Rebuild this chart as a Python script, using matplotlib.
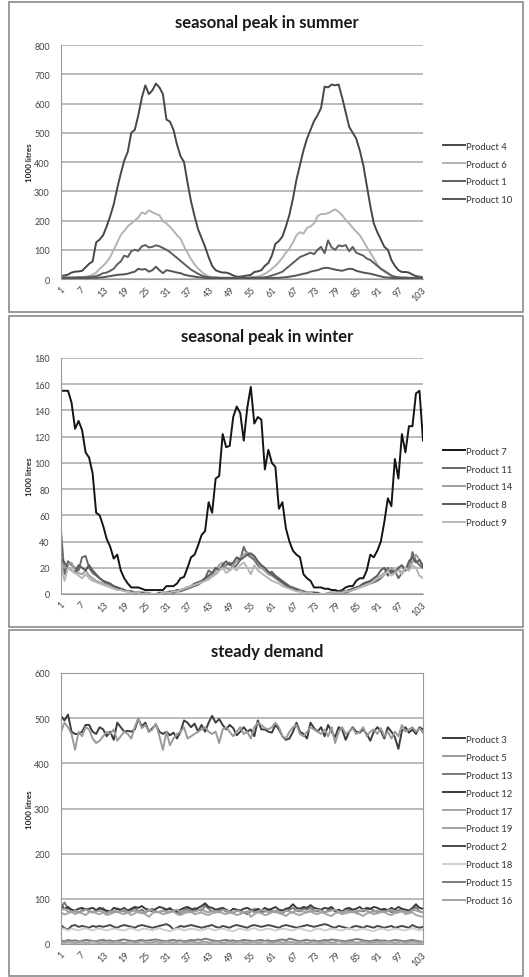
import matplotlib
matplotlib.use('Agg')
import matplotlib.pyplot as plt
from matplotlib.patches import Rectangle

plt.rcParams['font.family'] = ['Lato', 'DejaVu Sans']

W, H = 529, 978

# week labels shown on the category axis
week_ticks = list(range(1, 104, 6))

# ---- seasonal peak in summer ----
summer_names = ['Product 4', 'Product 6', 'Product 1', 'Product 10']
product4 = [10, 12, 15, 22, 25, 26, 28, 40, 52, 60, 125, 135, 150,
            180, 215, 255, 310, 360, 405, 435, 500, 510, 560, 620, 662, 632,
            645, 668, 655, 632, 545, 538, 510, 460, 420, 400, 330, 265, 215,
            170, 140, 110, 75, 45, 30, 25, 22, 22, 18, 12, 8, 8,
            10, 12, 14, 24, 26, 30, 45, 55, 80, 120, 130, 145, 180,
            220, 275, 340, 390, 440, 480, 510, 540, 560, 585, 658, 655, 665,
            662, 665, 620, 570, 520, 500, 480, 440, 390, 320, 250, 190, 160,
            135, 110, 100, 65, 45, 30, 24, 24, 22, 15, 10, 8, 5]
product6 = [5, 5, 4, 5, 5, 6, 6, 8, 10, 15, 22, 35, 45,
            58, 75, 100, 125, 150, 165, 180, 190, 200, 210, 228, 222, 235,
            228, 222, 218, 198, 190, 178, 165, 150, 138, 112, 90, 68, 50,
            36, 25, 15, 9, 6, 5, 5, 4, 4, 4, 4, 4, 4,
            4, 5, 5, 6, 8, 12, 18, 25, 35, 45, 58, 72, 90,
            105, 125, 150, 160, 155, 175, 180, 190, 215, 222, 222, 225, 232,
            238, 230, 218, 202, 190, 175, 162, 150, 130, 110, 90, 70, 50,
            35, 25, 18, 10, 6, 5, 4, 4, 4, 4, 4, 4, 4]
product1 = [5, 5, 5, 5, 5, 6, 6, 6, 7, 8, 10, 14, 20,
            22, 28, 35, 50, 60, 80, 75, 95, 100, 96, 112, 116, 108,
            110, 115, 112, 106, 100, 92, 82, 72, 62, 52, 42, 32, 25,
            18, 12, 8, 6, 5, 5, 4, 4, 4, 4, 4, 4, 4,
            4, 4, 5, 5, 5, 5, 6, 8, 12, 16, 20, 25, 35,
            45, 55, 65, 75, 80, 85, 90, 85, 100, 110, 88, 132, 108,
            100, 115, 112, 116, 95, 110, 90, 85, 80, 70, 65, 55, 45,
            35, 28, 20, 12, 8, 6, 5, 5, 4, 4, 4, 4, 4]
product10 = [3, 3, 3, 3, 3, 3, 3, 3, 3, 4, 4, 5, 6,
             8, 10, 12, 14, 15, 16, 18, 22, 25, 35, 32, 34, 25,
             30, 42, 30, 20, 30, 28, 25, 22, 20, 15, 12, 10, 8,
             6, 5, 4, 3, 3, 3, 3, 3, 3, 3, 3, 3, 3,
             3, 3, 3, 3, 3, 3, 3, 3, 3, 4, 4, 5, 6,
             8, 10, 12, 15, 18, 20, 25, 28, 30, 35, 38, 38, 35,
             32, 30, 28, 32, 35, 34, 28, 25, 22, 20, 18, 15, 12,
             9, 6, 5, 4, 3, 3, 3, 3, 3, 3, 3, 3, 3]

# ---- seasonal peak in winter ----
winter_names = ['Product 7', 'Product 11', 'Product 14', 'Product 8', 'Product 9']
product7 = [155, 155, 155, 146, 126, 132, 125, 108, 104, 92, 62, 60, 52,
            42, 36, 27, 30, 18, 12, 8, 5, 5, 5, 4, 3, 3,
            3, 3, 3, 3, 6, 6, 6, 8, 12, 13, 20, 28, 30,
            37, 45, 48, 70, 62, 88, 90, 122, 112, 113, 135, 143, 138,
            117, 142, 158, 130, 135, 133, 95, 110, 100, 97, 65, 70, 50,
            40, 33, 30, 28, 15, 12, 10, 5, 5, 5, 4, 4, 3,
            3, 2, 3, 5, 6, 6, 10, 12, 12, 18, 30, 28, 33,
            40, 55, 73, 67, 103, 88, 122, 108, 128, 128, 153, 155, 117]
product11 = [48, 15, 25, 22, 20, 18, 28, 29, 20, 16, 14, 12, 10,
             8, 7, 6, 5, 4, 3, 2, 2, 1, 1, 1, 1, 0,
             0, 0, 0, 0, 1, 1, 1, 2, 2, 3, 4, 5, 6,
             7, 9, 12, 18, 16, 15, 18, 20, 22, 24, 20, 22, 26,
             36, 30, 28, 26, 22, 20, 18, 16, 17, 14, 12, 10, 8,
             6, 5, 4, 3, 2, 1, 1, 1, 0, 0, 0, 0, 0,
             1, 1, 1, 1, 2, 3, 4, 5, 6, 7, 8, 9, 10,
             12, 15, 20, 16, 18, 12, 16, 20, 18, 32, 25, 22, 20]
product14 = [25, 20, 22, 24, 18, 16, 15, 18, 14, 12, 10, 9, 8,
             7, 6, 5, 4, 3, 3, 2, 2, 1, 1, 1, 1, 1,
             0, 0, 0, 1, 1, 1, 2, 2, 3, 4, 5, 6, 7,
             8, 9, 10, 12, 14, 18, 22, 24, 20, 18, 22, 25, 28,
             30, 32, 30, 28, 24, 20, 18, 15, 14, 12, 10, 8, 6,
             5, 4, 3, 2, 2, 1, 1, 1, 0, 0, 0, 1, 1,
             1, 1, 2, 2, 3, 4, 5, 6, 7, 8, 9, 10, 12,
             14, 16, 18, 20, 17, 19, 16, 18, 22, 24, 30, 26, 22]
product8 = [27, 24, 20, 18, 16, 22, 20, 18, 22, 18, 15, 12, 10,
            9, 8, 6, 5, 4, 3, 2, 2, 1, 1, 1, 0, 0,
            0, 0, 1, 1, 1, 2, 2, 3, 3, 4, 5, 6, 8,
            9, 10, 12, 14, 16, 20, 18, 22, 25, 22, 24, 28, 26,
            28, 30, 31, 29, 25, 22, 20, 17, 15, 13, 11, 9, 7,
            5, 4, 3, 2, 2, 1, 1, 1, 1, 0, 0, 0, 1,
            1, 1, 2, 2, 3, 4, 5, 6, 8, 9, 10, 12, 14,
            18, 20, 14, 18, 16, 20, 22, 18, 25, 28, 24, 26, 21]
product9 = [22, 10, 20, 18, 16, 14, 12, 15, 12, 10, 9, 8, 7,
            6, 5, 4, 3, 3, 2, 2, 1, 1, 1, 0, 0, 0,
            0, 0, 0, 1, 1, 1, 2, 2, 3, 4, 5, 6, 7,
            8, 9, 10, 11, 13, 15, 18, 20, 16, 18, 20, 18, 22,
            24, 20, 15, 22, 18, 16, 14, 12, 10, 9, 8, 6, 5,
            4, 3, 2, 2, 1, 1, 1, 0, 0, 0, 0, 0, 1,
            1, 1, 1, 2, 2, 3, 4, 5, 6, 7, 8, 10, 12,
            13, 15, 17, 14, 16, 18, 15, 20, 18, 22, 20, 14, 12]

# ---- steady demand ----
steady_names = ['Product 3', 'Product 5', 'Product 13', 'Product 12', 'Product 17',
                'Product 19', 'Product 2', 'Product 18', 'Product 15', 'Product 16']
product3 = [505, 495, 508, 470, 465, 465, 470, 485, 485, 470, 465, 480, 475,
            460, 470, 452, 490, 480, 470, 472, 470, 475, 498, 482, 490, 470,
            478, 485, 470, 465, 470, 462, 468, 455, 470, 495, 490, 480, 488,
            470, 485, 470, 490, 505, 490, 498, 485, 475, 485, 478, 462, 470,
            480, 470, 475, 460, 495, 475, 475, 470, 468, 485, 475, 460, 452,
            455, 470, 490, 470, 465, 455, 490, 478, 470, 480, 460, 485, 470,
            458, 480, 475, 452, 470, 480, 470, 468, 475, 465, 450, 470, 480,
            472, 455, 480, 470, 458, 432, 472, 480, 468, 475, 465, 480, 475]
product5 = [470, 490, 480, 465, 430, 470, 460, 480, 475, 455, 445, 450, 460,
            470, 465, 475, 450, 460, 470, 465, 455, 480, 500, 478, 485, 470,
            475, 488, 460, 430, 470, 440, 455, 465, 470, 480, 455, 460, 465,
            470, 475, 480, 470, 465, 470, 445, 475, 480, 470, 460, 470, 480,
            465, 470, 455, 480, 490, 485, 478, 475, 480, 490, 480, 460, 455,
            470, 480, 485, 465, 460, 470, 480, 475, 470, 465, 475, 460, 480,
            445, 470, 480, 465, 470, 478, 465, 470, 480, 460, 470, 475, 465,
            478, 460, 470, 455, 470, 460, 485, 470, 475, 480, 470, 478, 468]
product13 = [80, 92, 78, 75, 72, 70, 75, 78, 72, 70, 74, 76, 80,
             68, 72, 70, 78, 74, 72, 70, 75, 80, 72, 76, 70, 74,
             78, 72, 70, 74, 76, 80, 72, 70, 68, 75, 78, 72, 80,
             76, 74, 85, 78, 72, 70, 74, 76, 72, 70, 68, 74, 72,
             70, 66, 72, 78, 74, 70, 72, 76, 74, 70, 72, 68, 74,
             76, 80, 74, 72, 78, 76, 80, 74, 72, 76, 70, 74, 78,
             72, 70, 68, 74, 76, 72, 70, 74, 72, 76, 78, 74, 70,
             72, 74, 76, 70, 72, 74, 78, 72, 70, 74, 82, 72, 70]
product12 = [85, 78, 82, 76, 74, 78, 80, 76, 78, 80, 75, 80, 76,
             74, 72, 80, 78, 76, 80, 74, 78, 82, 80, 84, 78, 76,
             72, 78, 82, 80, 76, 78, 74, 72, 76, 80, 82, 78, 76,
             80, 84, 90, 82, 80, 76, 78, 80, 76, 72, 78, 76, 74,
             78, 80, 76, 72, 78, 74, 80, 76, 78, 82, 76, 74, 78,
             80, 88, 80, 78, 82, 80, 86, 80, 78, 76, 80, 78, 82,
             74, 76, 72, 78, 80, 76, 78, 82, 76, 80, 78, 82, 80,
             76, 78, 74, 80, 76, 82, 78, 76, 74, 80, 88, 80, 78]
product17 = [70, 65, 68, 72, 66, 70, 68, 64, 70, 72, 68, 66, 70,
             64, 66, 70, 72, 68, 66, 70, 64, 68, 72, 70, 66, 60,
             68, 72, 70, 66, 68, 70, 72, 66, 64, 68, 70, 72, 66,
             68, 70, 66, 64, 68, 70, 72, 68, 66, 70, 68, 64, 66,
             70, 72, 60, 66, 70, 68, 64, 66, 70, 72, 68, 66, 62,
             68, 70, 66, 64, 68, 70, 72, 68, 66, 70, 68, 64, 62,
             68, 70, 66, 68, 70, 72, 68, 66, 62, 68, 70, 66, 68,
             70, 72, 66, 64, 68, 70, 72, 66, 68, 70, 64, 62, 60]
product19 = [75, 78, 72, 70, 74, 70, 72, 76, 74, 70, 72, 74, 70,
             68, 72, 74, 70, 72, 76, 70, 72, 74, 70, 68, 72, 76,
             74, 70, 72, 74, 70, 72, 74, 76, 70, 72, 74, 70, 72,
             74, 78, 72, 70, 74, 72, 70, 76, 74, 72, 70, 74, 72,
             70, 72, 74, 70, 72, 76, 74, 70, 72, 74, 72, 70, 74,
             72, 70, 76, 74, 72, 70, 74, 72, 76, 74, 70, 72, 74,
             76, 72, 70, 74, 72, 70, 74, 72, 76, 74, 70, 72, 74,
             72, 70, 74, 76, 72, 70, 74, 72, 70, 76, 74, 72, 70]
product2 = [42, 35, 32, 40, 42, 38, 40, 38, 36, 40, 38, 40, 38,
            40, 42, 38, 36, 40, 42, 40, 38, 36, 40, 42, 40, 38,
            36, 38, 40, 42, 44, 40, 32, 36, 40, 38, 40, 42, 40,
            38, 36, 38, 40, 42, 38, 36, 40, 38, 36, 40, 42, 40,
            38, 36, 40, 42, 40, 38, 40, 42, 40, 38, 36, 40, 42,
            40, 38, 36, 38, 40, 42, 40, 38, 40, 42, 44, 42, 38,
            36, 40, 38, 36, 34, 38, 40, 38, 36, 40, 38, 36, 40,
            38, 36, 38, 40, 36, 38, 40, 38, 36, 42, 38, 36, 38]
product18 = [35, 33, 30, 34, 32, 30, 33, 35, 32, 30, 33, 34, 32,
             30, 32, 34, 33, 31, 30, 33, 35, 32, 30, 33, 34, 32,
             30, 33, 35, 32, 30, 28, 32, 34, 33, 30, 32, 34, 33,
             31, 30, 33, 35, 32, 30, 33, 34, 32, 30, 28, 32, 34,
             32, 30, 33, 35, 32, 30, 33, 34, 32, 30, 32, 34, 33,
             31, 30, 33, 35, 32, 30, 28, 32, 34, 33, 30, 32, 34,
             33, 31, 30, 33, 35, 32, 30, 33, 34, 32, 30, 28, 32,
             34, 33, 30, 32, 34, 33, 31, 30, 33, 35, 32, 30, 33]
product15 = [8, 6, 9, 7, 8, 6, 7, 9, 8, 7, 6, 8, 9,
             7, 8, 6, 7, 9, 10, 8, 7, 6, 8, 9, 7, 8,
             9, 10, 8, 7, 6, 8, 9, 7, 8, 6, 7, 9, 8,
             10, 9, 12, 10, 8, 7, 6, 8, 9, 7, 8, 6, 7,
             9, 8, 7, 6, 8, 9, 7, 8, 6, 7, 9, 10, 8,
             12, 10, 8, 6, 8, 9, 7, 8, 6, 7, 9, 8, 10,
             9, 8, 7, 6, 8, 9, 11, 10, 8, 7, 6, 8, 9,
             7, 8, 6, 7, 9, 8, 7, 6, 8, 9, 7, 6, 5]
product16 = [4, 3, 5, 4, 3, 4, 5, 3, 4, 6, 4, 3, 4,
             5, 3, 4, 5, 4, 2, 4, 5, 3, 4, 6, 4, 3,
             4, 5, 3, 4, 5, 4, 3, 4, 6, 3, 4, 5, 4,
             3, 4, 5, 3, 4, 5, 4, 2, 4, 5, 3, 4, 5,
             4, 3, 4, 5, 3, 4, 6, 4, 3, 4, 5, 3, 4,
             5, 4, 3, 4, 5, 2, 4, 5, 4, 3, 4, 5, 3,
             4, 6, 4, 3, 4, 5, 3, 4, 5, 4, 3, 4, 5,
             3, 4, 5, 4, 3, 4, 5, 2, 4, 5, 4, 3, 4]


def px_rect(x0, y0, x1, y1):
    return [x0 / W, 1 - y1 / H, (x1 - x0) / W, (y1 - y0) / H]


fig = plt.figure(figsize=(W / 100, H / 100), dpi=100)
fig.patch.set_facecolor('white')


def panel(box, plot, title, title_y, series, names, colors, ymax, ystep, leg_y, boxed=False):
    # outer chart frame
    bx0, by0, bx1, by1 = box
    fig.patches.append(Rectangle((bx0 / W, 1 - by1 / H), (bx1 - bx0) / W, (by1 - by0) / H,
                                 transform=fig.transFigure, fill=False,
                                 ec='#8a8a8a', lw=1.2))
    ax = fig.add_axes(px_rect(*plot))
    for ys, name, col in zip(series, names, colors):
        ax.plot(range(1, len(ys) + 1), ys, color=col, lw=1.4, label=name)
    ax.set_xlim(1, 104)
    ax.set_ylim(0, ymax)
    ax.set_yticks(range(0, ymax + 1, ystep))
    ax.set_xticks(week_ticks)
    ax.set_xticklabels([str(t) for t in week_ticks], rotation=45, ha='center', va='top')
    ax.tick_params(length=0, labelsize=6.5, colors='#444444')
    ax.tick_params(axis='x', pad=4)
    ax.tick_params(axis='y', pad=8)
    ax.yaxis.grid(True, color='#a8a8a8', lw=1.1)
    ax.set_axisbelow(True)
    for s in ['top', 'right']:
        ax.spines[s].set_visible(boxed)
        ax.spines[s].set_color('#9a9a9a')
    ax.spines['left'].set_color('#9a9a9a')
    ax.spines['bottom'].set_color('#9a9a9a')
    fig.text(267 / W, 1 - title_y / H, title, ha='center', va='center',
             fontsize=12, fontweight='bold', color='#1a1a1a')
    yc = (plot[1] + plot[3]) / 2
    fig.text(29 / W, 1 - yc / H, '1000 litres', rotation=90, ha='center', va='center',
             fontsize=5.8, fontweight='bold', color='#222222')
    ax.legend(loc='center left', bbox_to_anchor=(443 / W, 1 - leg_y / H),
              bbox_transform=fig.transFigure, frameon=False, fontsize=6.8,
              handlelength=2.3, handletextpad=0.15, labelspacing=0.95,
              borderpad=0, borderaxespad=0, labelcolor='#333333')
    return ax


panel((9, 3, 523, 313), (61, 46, 423, 280), 'seasonal peak in summer', 23,
      [product4, product6, product1, product10], summer_names,
      ['#474747', '#b3b3b3', '#5e5e5e', '#555555'], 800, 100, 174)

panel((9, 317, 523, 628), (61, 359, 423, 595), 'seasonal peak in winter', 337,
      [product7, product11, product14, product8, product9], winter_names,
      ['#141414', '#6a6a6a', '#9e9e9e', '#5a5a5a', '#b8b8b8'], 180, 20, 488)

panel((9, 631, 523, 977), (61, 674, 423, 945), 'steady demand', 652,
      [product3, product5, product13, product12, product17,
       product19, product2, product18, product15, product16], steady_names,
      ['#3c3c3c', '#9a9a9a', '#7a7a7a', '#3a3a3a', '#a6a6a6',
       '#a0a0a0', '#4a4a4a', '#cfcfcf', '#7c7c7c', '#a3a3a3'], 600, 100, 821, boxed=True)

fig.savefig('out.png', dpi=100)
